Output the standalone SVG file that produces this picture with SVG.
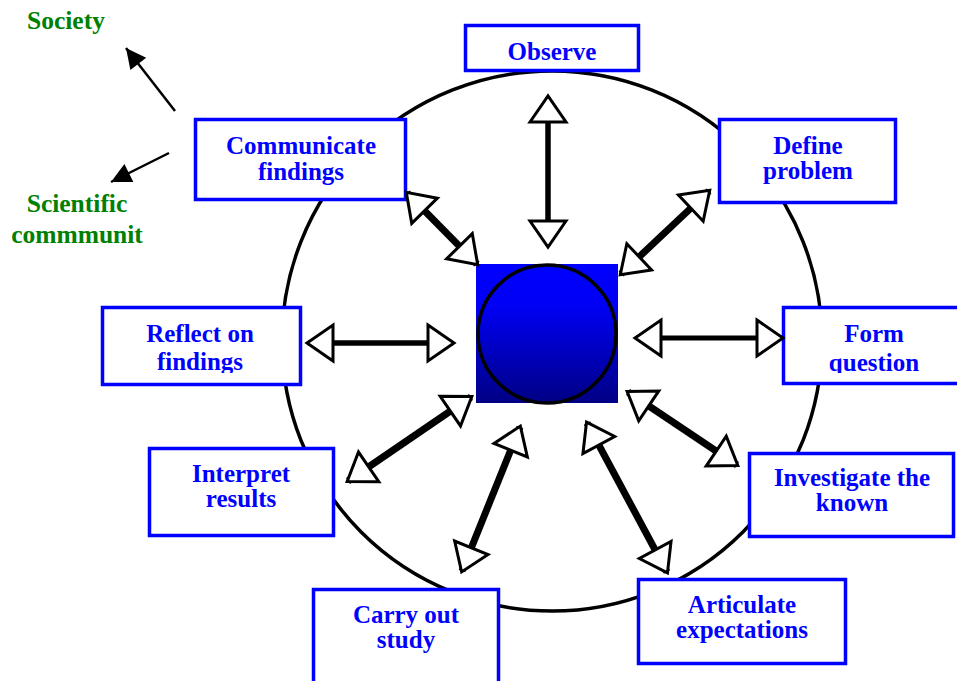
<svg xmlns="http://www.w3.org/2000/svg" width="957" height="681" viewBox="0 0 957 681">
<style>
.box{fill:#fff;stroke:#0000ff;stroke-width:3.5}
.lbl{font-family:"Liberation Serif","Times New Roman",serif;font-weight:bold;font-size:25px;fill:#0000ff;text-anchor:middle}
.grn{font-family:"Liberation Serif","Times New Roman",serif;font-weight:bold;font-size:25.5px;fill:#008000}
.dbl{stroke:#000;stroke-width:7;fill:none;marker-start:url(#ah);marker-end:url(#ah)}
.sgl{stroke:#000;stroke-width:2.5;fill:none;marker-end:url(#sh)}
</style>
<defs>
<linearGradient id="g" x1="0" y1="0" x2="0" y2="1">
<stop offset="0" stop-color="#0000ff"/>
<stop offset="0.3" stop-color="#0000f4"/>
<stop offset="1" stop-color="#000084"/>
</linearGradient>
<marker id="ah" viewBox="-3 -21 32 42" refX="25" refY="0" markerWidth="32" markerHeight="42" markerUnits="userSpaceOnUse" orient="auto-start-reverse" overflow="visible">
<path d="M0,-18 L26,0 L0,18 Z" fill="#fff" stroke="#000" stroke-width="3"/>
</marker>
<marker id="sh" viewBox="-1 -11 22 22" refX="20" refY="0" markerWidth="22" markerHeight="22" markerUnits="userSpaceOnUse" orient="auto" overflow="visible">
<path d="M0,-10 L20,0 L0,10 Z" fill="#000"/>
</marker>
<clipPath id="c1"><rect x="100" y="300" width="210" height="73"/></clipPath>
<clipPath id="c2"><rect x="780" y="300" width="180" height="73"/></clipPath>
</defs>
<g id="ring"><circle cx="552" cy="341" r="270" fill="none" stroke="#000" stroke-width="3.5"/></g>
<g id="hub">
<rect x="476" y="264" width="142" height="139" fill="url(#g)"/>
<circle cx="547" cy="334" r="69" fill="url(#g)" stroke="#000" stroke-width="3.5"/>
</g>
<g id="observe"><rect class="box" x="465.5" y="25.5" width="173" height="45"/><text class="lbl" x="552" y="60">Observe</text></g>
<g id="communicate"><rect class="box" x="195.5" y="119.5" width="210" height="80"/><text class="lbl" x="301" y="154">Communicate</text><text class="lbl" x="301" y="180">findings</text></g>
<g id="define"><rect class="box" x="719.5" y="119.5" width="176" height="83"/><text class="lbl" x="808" y="154">Define</text><text class="lbl" x="808" y="179">problem</text></g>
<g id="reflect"><rect class="box" x="102.5" y="307.5" width="198" height="77"/><g clip-path="url(#c1)"><text class="lbl" x="200" y="342">Reflect on</text><text class="lbl" x="200" y="370">findings</text></g></g>
<g id="form"><rect class="box" x="783.5" y="307.5" width="190" height="76"/><g clip-path="url(#c2)"><text class="lbl" x="874" y="342">Form</text><text class="lbl" x="874" y="371">question</text></g></g>
<g id="interpret"><rect class="box" x="149.5" y="448.5" width="184" height="87"/><text class="lbl" x="241" y="482">Interpret</text><text class="lbl" x="241" y="507">results</text></g>
<g id="investigate"><rect class="box" x="749.5" y="453.5" width="204" height="83"/><text class="lbl" x="852" y="486">Investigate the</text><text class="lbl" x="852" y="511">known</text></g>
<g id="articulate"><rect class="box" x="638.5" y="579.5" width="207" height="84"/><text class="lbl" x="742" y="613">Articulate</text><text class="lbl" x="742" y="638">expectations</text></g>
<g id="carry"><rect class="box" x="313.5" y="589.5" width="185" height="110"/><text class="lbl" x="406" y="623">Carry out</text><text class="lbl" x="406" y="648">study</text></g>
<g id="society"><text class="grn" x="27" y="29">Society</text></g>
<g id="community"><text class="grn" x="77" y="212" text-anchor="middle">Scientific</text><text class="grn" x="77" y="243" text-anchor="middle">commmunit</text></g>
<g id="connectors">
<line class="dbl" x1="548" y1="97" x2="548" y2="246" style="stroke-width:5.5"/>
<line class="dbl" x1="709" y1="191" x2="621" y2="274"/>
<line class="dbl" x1="782" y1="338" x2="636" y2="338" style="stroke-width:5"/>
<line class="dbl" x1="737" y1="465" x2="628" y2="392"/>
<line class="dbl" x1="667" y1="572" x2="587" y2="423"/>
<line class="dbl" x1="462" y1="571" x2="520" y2="427"/>
<line class="dbl" x1="348" y1="481" x2="471" y2="397"/>
<line class="dbl" x1="308" y1="343" x2="453" y2="343" style="stroke-width:5.5"/>
<line class="dbl" x1="407" y1="193" x2="477" y2="264"/>
<line class="sgl" x1="175" y1="111" x2="126" y2="48"/>
<line class="sgl" x1="169" y1="153" x2="111" y2="182"/>
</g>
</svg>
